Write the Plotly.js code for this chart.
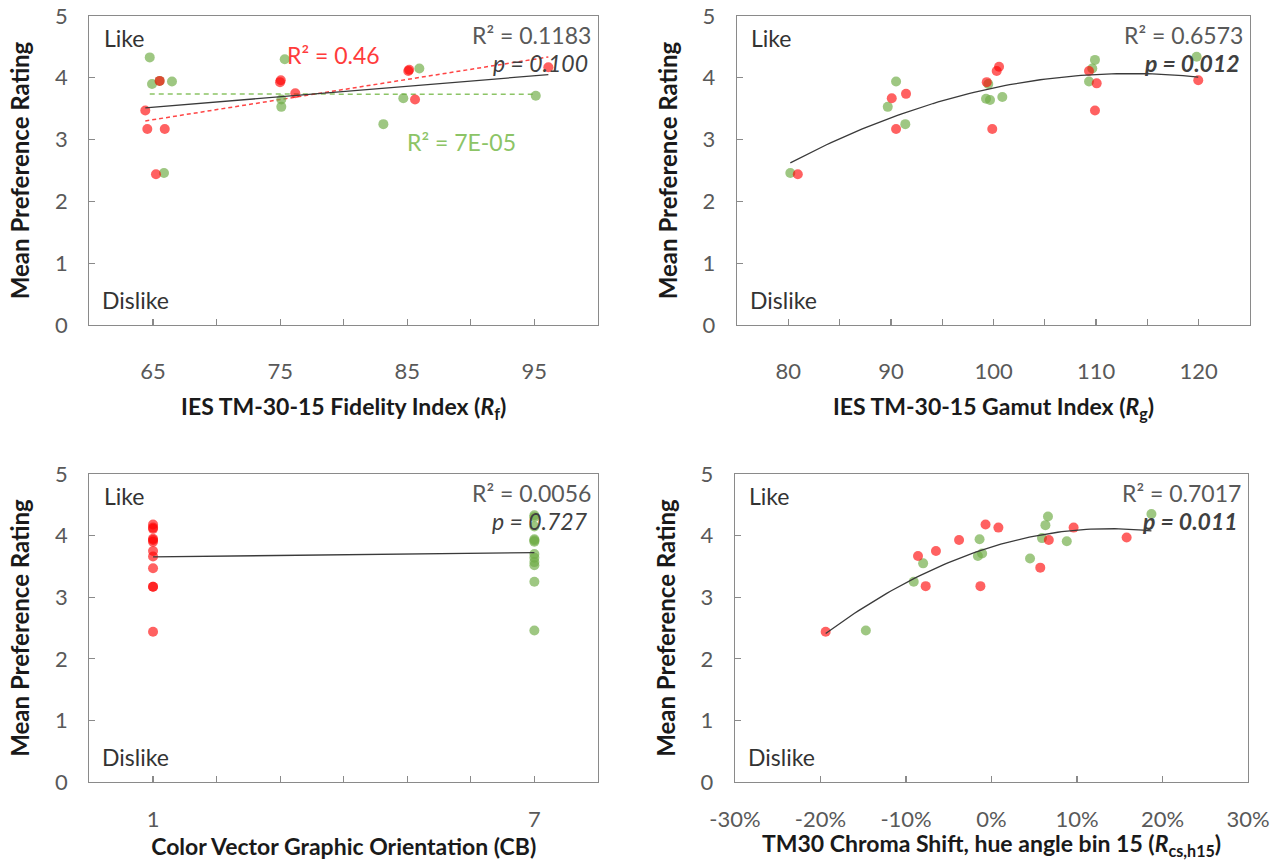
<!DOCTYPE html>
<html>
<head>
<meta charset="utf-8">
<script src="https://cdn.plot.ly/plotly-3.0.1.min.js"></script>
<style>html,body{margin:0;padding:0;background:#fff;}#chart{width:1273px;height:860px;}</style>
</head>
<body>
<div id="chart"></div>
<script>
// ---------- Data ----------
// Panel 1: IES TM-30-15 Fidelity Index (Rf)
const rfRedX   = [64.39, 64.55, 65.23, 65.52, 65.92, 74.99, 75.05, 76.19, 85.08, 85.15, 85.61, 96.10];
const rfRedY   = [3.47, 3.17, 2.44, 3.95, 3.17, 3.93, 3.96, 3.75, 4.11, 4.13, 3.65, 4.17];
const rfGreenX = [64.74, 64.92, 65.52, 66.49, 65.86, 75.36, 75.09, 75.09, 85.95, 84.69, 83.12, 95.11];
const rfGreenY = [4.33, 3.90, 3.95, 3.94, 2.46, 4.30, 3.65, 3.53, 4.15, 3.67, 3.25, 3.71];

// Panel 2: IES TM-30-15 Gamut Index (Rg)
const rgRedX   = [80.92, 90.08, 91.47, 90.50, 99.34, 100.31, 100.54, 99.88, 109.31, 110.06, 109.89, 119.96];
const rgRedY   = [2.44, 3.67, 3.74, 3.17, 3.93, 4.11, 4.18, 3.17, 4.11, 3.91, 3.47, 3.96];
const rgGreenX = [80.19, 90.50, 89.69, 91.40, 99.49, 99.27, 99.66, 100.86, 109.89, 109.63, 109.31, 119.80];
const rgGreenY = [2.46, 3.94, 3.53, 3.25, 3.90, 3.66, 3.64, 3.69, 4.29, 4.15, 3.94, 4.34];

// Panel 3: Color Vector Graphic Orientation (CB)
const cbRedX   = [1, 1, 1, 1, 1, 1, 1, 1, 1, 1, 1, 1];
const cbRedY   = [4.18, 4.13, 4.11, 3.95, 3.93, 3.90, 3.75, 3.66, 3.47, 3.17, 3.17, 2.44];
const cbGreenX = [7, 7, 7, 7, 7, 7, 7, 7, 7, 7, 7, 7];
const cbGreenY = [4.33, 4.30, 4.15, 3.94, 3.92, 3.90, 3.70, 3.64, 3.57, 3.52, 3.25, 2.46];

// Panel 4: TM30 Chroma Shift, hue angle bin 15
const csRedX   = [-0.194, -0.086, -0.077, -0.065, -0.038, -0.013, -0.007, 0.008, 0.067, 0.057, 0.096, 0.158];
const csRedY   = [2.44, 3.67, 3.18, 3.75, 3.93, 3.18, 4.18, 4.13, 3.93, 3.48, 4.13, 3.97];
const csGreenX = [-0.147, -0.080, -0.091, -0.014, -0.016, -0.011, 0.066, 0.063, 0.059, 0.045, 0.088, 0.187];
const csGreenY = [2.46, 3.55, 3.25, 3.94, 3.67, 3.71, 4.31, 4.17, 3.96, 3.63, 3.91, 4.35];

// Tick labels
const cbTickVals = [1, 7];
const cbTickText = ['1', '7'];
const csTickVals = [-0.3, -0.2, -0.1, 0, 0.1, 0.2, 0.3];
const csTickText = ['-30%', '-20%', '-10%', '0%', '10%', '20%', '30%'];

// ---------- Least-squares trend lines computed from the data ----------
function linFit(xs, ys) {
  const n = xs.length;
  let sx = 0, sy = 0, sxx = 0, sxy = 0;
  for (let i = 0; i < n; i++) { sx += xs[i]; sy += ys[i]; sxx += xs[i]*xs[i]; sxy += xs[i]*ys[i]; }
  const b = (n*sxy - sx*sy) / (n*sxx - sx*sx);
  const a = (sy - b*sx) / n;
  return x => a + b*x;
}
function quadFit(xs, ys) {
  let S = [0,0,0,0,0], T = [0,0,0];
  for (let i = 0; i < xs.length; i++) {
    let p = 1;
    for (let k = 0; k < 5; k++) { S[k] += p; if (k < 3) T[k] += p*ys[i]; p *= xs[i]; }
  }
  const M = [[S[0],S[1],S[2],T[0]],[S[1],S[2],S[3],T[1]],[S[2],S[3],S[4],T[2]]];
  for (let c = 0; c < 3; c++) {
    for (let r = c+1; r < 3; r++) {
      const f = M[r][c]/M[c][c];
      for (let k = c; k < 4; k++) M[r][k] -= f*M[c][k];
    }
  }
  const co = [0,0,0];
  for (let r = 2; r >= 0; r--) {
    let s = M[r][3];
    for (let k = r+1; k < 3; k++) s -= M[r][k]*co[k];
    co[r] = s / M[r][r];
  }
  return x => co[0] + co[1]*x + co[2]*x*x;
}
function lineTrace(xs, ys, fit, steps, xa, ya, line) {
  const lo = Math.min(...xs), hi = Math.max(...xs);
  const X = [], Y = [];
  for (let i = 0; i <= steps; i++) { const x = lo + (hi-lo)*i/steps; X.push(x); Y.push(fit(x)); }
  return {x: X, y: Y, type: 'scatter', mode: 'lines', xaxis: xa, yaxis: ya, line: line, hoverinfo: 'skip', showlegend: false};
}

const RED = 'rgba(255,0,0,0.62)';
const GREEN = 'rgba(112,173,71,0.68)';
const MS = 10;
function pts(x, y, color, xa, ya) {
  return {x: x, y: y, type: 'scatter', mode: 'markers', xaxis: xa, yaxis: ya,
          marker: {color: color, size: MS, line: {width: 0}}, showlegend: false};
}
const blackLine = {color: '#3a3a3a', width: 1.3};

const allRfX = rfRedX.concat(rfGreenX), allRfY = rfRedY.concat(rfGreenY);
const allRgX = rgRedX.concat(rgGreenX), allRgY = rgRedY.concat(rgGreenY);
const allCbX = cbRedX.concat(cbGreenX), allCbY = cbRedY.concat(cbGreenY);
const allCsX = csRedX.concat(csGreenX), allCsY = csRedY.concat(csGreenY);

const traces = [
  lineTrace(rfGreenX, rfGreenY, linFit(rfGreenX, rfGreenY), 1, 'x', 'y', {color: '#8cc466', width: 1.5, dash: '5px,4px'}),
  lineTrace(rfRedX, rfRedY, linFit(rfRedX, rfRedY), 1, 'x', 'y', {color: '#ff4545', width: 1.5, dash: '4px,3px'}),
  pts(rfGreenX, rfGreenY, GREEN, 'x', 'y'),
  pts(rfRedX, rfRedY, RED, 'x', 'y'),
  lineTrace(allRfX, allRfY, linFit(allRfX, allRfY), 1, 'x', 'y', blackLine),

  pts(rgGreenX, rgGreenY, GREEN, 'x2', 'y2'),
  pts(rgRedX, rgRedY, RED, 'x2', 'y2'),
  lineTrace(allRgX, allRgY, quadFit(allRgX, allRgY), 80, 'x2', 'y2', blackLine),

  pts(cbGreenX, cbGreenY, GREEN, 'x3', 'y3'),
  pts(cbRedX, cbRedY, RED, 'x3', 'y3'),
  lineTrace(allCbX, allCbY, linFit(allCbX, allCbY), 1, 'x3', 'y3', blackLine),

  pts(csGreenX, csGreenY, GREEN, 'x4', 'y4'),
  pts(csRedX, csRedY, RED, 'x4', 'y4'),
  lineTrace(allCsX, allCsY, quadFit(allCsX, allCsY), 80, 'x4', 'y4', blackLine)
];

// ---------- Layout ----------
const FONT = 'Lato, "Open Sans", sans-serif';
const AXC = '#8a8a8a';
const tickFont = {family: FONT, size: 22, color: '#595959'};
const titleFont = {family: FONT, size: 23, color: '#1a1a1a'};
function baseAxis(extra) {
  return Object.assign({
    showline: true, linecolor: AXC, linewidth: 1.3, mirror: true,
    ticks: 'inside', ticklen: 6, tickcolor: AXC, tickwidth: 1.2,
    showgrid: false, zeroline: false, automargin: false, fixedrange: true,
    tickfont: tickFont
  }, extra);
}
function yAxis(domain, anchor) {
  return baseAxis({domain: domain, anchor: anchor, range: [0, 5], tick0: 0, dtick: 1,
    ticklabelstandoff: 16,
    title: {text: '<b>Mean Preference Rating</b>', font: {family: FONT, size: 24, color: '#1a1a1a'}, standoff: 18}});
}
function xTitle(t, so) { return {text: t, font: titleFont, standoff: so}; }

const xd1 = [0.0703, 0.4697], xd2 = [0.5790, 0.9819], xd4 = [0.5774, 0.9804];
const yTop = [0.6221, 0.9814], yBot = [0.0907, 0.4488];
const minorTicks = (t0, d) => ({tick0: t0, dtick: d, ticks: 'inside', ticklen: 6, tickcolor: AXC, showgrid: false});

const layout = {
  width: 1273, height: 860,
  margin: {l: 0, r: 0, t: 0, b: 0},
  paper_bgcolor: '#ffffff', plot_bgcolor: '#ffffff',
  showlegend: false,
  font: {family: FONT},
  xaxis: baseAxis({domain: xd1, anchor: 'y', range: [60, 100], tick0: 65, dtick: 10,
    minor: minorTicks(60, 5), ticklabelstandoff: 26,
    title: xTitle('<b>IES TM-30-15 Fidelity Index (<i>R</i><sub>f</sub>)</b>', 16)}),
  yaxis: yAxis(yTop, 'x'),
  xaxis2: baseAxis({domain: xd2, anchor: 'y2', range: [75, 125], tick0: 80, dtick: 10,
    minor: minorTicks(75, 5), ticklabelstandoff: 26,
    title: xTitle('<b>IES TM-30-15 Gamut Index (<i>R</i><sub>g</sub>)</b>', 16)}),
  yaxis2: yAxis(yTop, 'x2'),
  xaxis3: baseAxis({domain: xd1, anchor: 'y3', range: [0, 8], tickmode: 'array', tickvals: cbTickVals, ticktext: cbTickText,
    minor: minorTicks(0, 1), ticklabelstandoff: 17,
    title: xTitle('<b>Color Vector Graphic Orientation (CB)</b>', 15)}),
  yaxis3: yAxis(yBot, 'x3'),
  xaxis4: baseAxis({domain: xd4, anchor: 'y4', range: [-0.3, 0.3], tickmode: 'array', tickvals: csTickVals, ticktext: csTickText,
    ticklabelstandoff: 17,
    title: xTitle('<b>TM30 Chroma Shift, hue angle bin 15 (<i>R</i><sub>cs,h15</sub>)</b>', 15)}),
  yaxis4: yAxis(yBot, 'x4'),
  annotations: []
};

const likeFont = {family: FONT, size: 23, color: '#333333'};
const rFont = {family: FONT, size: 23, color: '#595959'};
const panels = [['x', 'y'], ['x2', 'y2'], ['x3', 'y3'], ['x4', 'y4']];
panels.forEach(p => {
  layout.annotations.push({xref: p[0] + ' domain', yref: p[1] + ' domain', x: 0.024, y: 0.929,
    xanchor: 'left', yanchor: 'middle', text: 'Like', showarrow: false, font: likeFont});
  layout.annotations.push({xref: p[0] + ' domain', yref: p[1] + ' domain', x: 0.021, y: 0.081,
    xanchor: 'left', yanchor: 'middle', text: 'Dislike', showarrow: false, font: likeFont});
});
const stats = [
  ['x', 'y', 'R² = 0.1183', '<i>p = 0.100</i>'],
  ['x2', 'y2', 'R² = 0.6573', '<b><i>p = 0.012</i></b>'],
  ['x3', 'y3', 'R² = 0.0056', '<i>p = 0.727</i>'],
  ['x4', 'y4', 'R² = 0.7017', '<b><i>p = 0.011</i></b>']
];
stats.forEach(s => {
  layout.annotations.push({xref: s[0] + ' domain', yref: s[1] + ' domain', x: 0.99, y: 0.937,
    xanchor: 'right', yanchor: 'middle', text: s[2], showarrow: false, font: rFont});
  layout.annotations.push({xref: s[0] + ' domain', yref: s[1] + ' domain', x: 0.984, y: 0.847,
    xanchor: 'right', yanchor: 'middle', text: s[3], showarrow: false, font: {family: FONT, size: 23, color: '#404040'}});
});
layout.annotations.push({xref: 'x domain', yref: 'y domain', x: 0.384, y: 0.874, xanchor: 'left', yanchor: 'middle',
  text: 'R² = 0.46', showarrow: false, font: {family: FONT, size: 23, color: '#ff3b3b'}});
layout.annotations.push({xref: 'x domain', yref: 'y domain', x: 0.620, y: 0.593, xanchor: 'left', yanchor: 'middle',
  text: 'R² = 7E-05', showarrow: false, font: {family: FONT, size: 23, color: '#8cc466'}});

Plotly.newPlot('chart', traces, layout, {staticPlot: true, displayModeBar: false});
</script>
</body>
</html>
